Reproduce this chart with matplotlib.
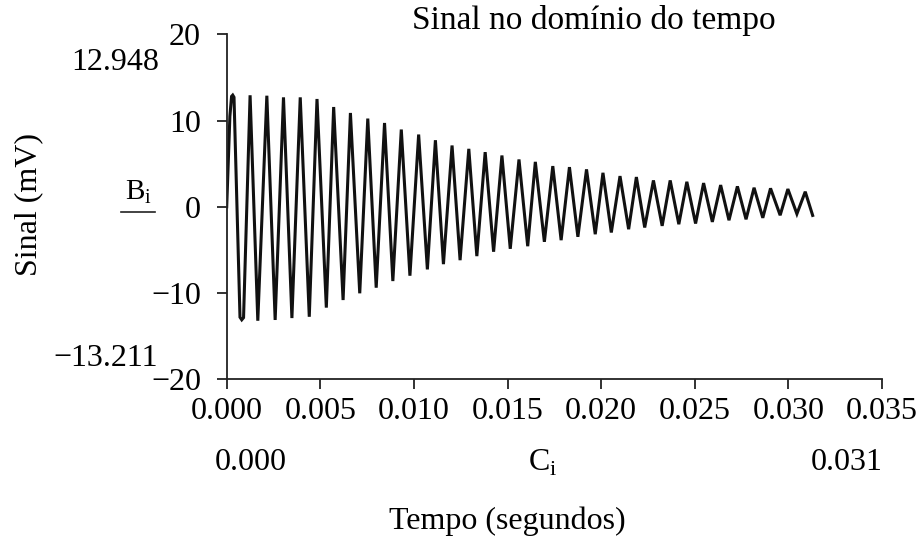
import numpy as np
import matplotlib.pyplot as plt

# picos e vales (tempo em s, sinal em mV)
t_picos = [0.000322, 0.001249, 0.002144, 0.003033, 0.003928, 0.004823, 0.005713,
           0.006608, 0.007535, 0.008430, 0.009325, 0.010252, 0.011147, 0.012036,
           0.012931, 0.013805, 0.014700, 0.015611, 0.016484, 0.017417, 0.018306,
           0.019218, 0.020096, 0.021007, 0.021881, 0.022792, 0.023687, 0.024576,
           0.025471, 0.026382, 0.027277, 0.028167, 0.029046, 0.029973, 0.030900]
v_picos = [12.948, 12.93, 12.88, 12.69, 12.69, 12.50, 11.57, 10.88, 10.23, 9.72,
           8.96, 8.38, 7.72, 7.11, 6.72, 6.34, 5.95, 5.49, 5.21, 4.72, 4.60, 4.34,
           3.94, 3.56, 3.45, 3.06, 3.06, 2.90, 2.75, 2.52, 2.37, 2.21, 2.14, 2.06, 1.75]

t_vales = [0.000804, 0.001661, 0.002588, 0.003483, 0.004410, 0.005321, 0.006216,
           0.007106, 0.007985, 0.008874, 0.009786, 0.010718, 0.011576, 0.012465,
           0.013360, 0.014255, 0.015145, 0.016077, 0.016967, 0.017862, 0.018757,
           0.019684, 0.020542, 0.021468, 0.022326, 0.023258, 0.024148, 0.025043,
           0.025938, 0.026827, 0.027738, 0.028633, 0.029560, 0.030455]
v_vales = [-13.10, -13.211, -13.12, -12.90, -12.75, -11.69, -10.81, -10.03, -9.38,
           -8.61, -7.99, -7.26, -6.65, -6.19, -5.72, -5.21, -4.87, -4.57, -4.06,
           -3.87, -3.48, -3.18, -2.98, -2.60, -2.40, -2.21, -2.02, -1.94, -1.75,
           -1.56, -1.45, -1.28, -0.98, -0.82]

# inicio, arredondamento do primeiro ciclo e ponto final
t_extra = [0.0, 0.00017, 0.00026, 0.00039, 0.00071, 0.00090, 0.031297]
v_extra = [0.0, 10.5, 12.8, 12.7, -12.8, -12.85, -1.0]

x_ticks = [0.000, 0.005, 0.010, 0.015, 0.020, 0.025, 0.030, 0.035]
y_ticks = [-20, -10, 0, 10, 20]

t = np.concatenate([t_picos, t_vales, t_extra])
v = np.concatenate([v_picos, v_vales, v_extra])
ordem = np.argsort(t)
t = t[ordem]
v = v[ordem]

plt.rcParams['font.family'] = ['Liberation Serif', 'DejaVu Serif']
W, H = 921, 541
fig = plt.figure(figsize=(W / 100, H / 100), dpi=100)

def px(x, y):
    return x / W, 1 - y / H

x0, y0 = px(226.7, 379.3)
x1, y1 = px(882, 34.3)
ax = fig.add_axes([x0, y0, x1 - x0, y1 - y0])
ax.plot(t, v, color='#111111', lw=2.2, solid_joinstyle='miter')
ax.set_xlim(0, 0.035)
ax.set_ylim(-20, 20)
ax.set_xticks(x_ticks)
ax.set_xticklabels(['%.3f' % x for x in x_ticks])
ax.set_yticks(y_ticks)
for s in ['top', 'right']:
    ax.spines[s].set_visible(False)
for s in ['left', 'bottom']:
    ax.spines[s].set_linewidth(1.3)
    ax.spines[s].set_color('#222222')
fs = 23
ax.tick_params(axis='both', direction='out', length=7.5, width=1.3,
               labelsize=fs, color='#222222')
ax.tick_params(axis='x', pad=5)
ax.tick_params(axis='y', pad=11)

fig.text(*px(594, 21), 'Sinal no domínio do tempo', fontsize=24, ha='center', va='center')
fig.text(*px(29, 205), 'Sinal (mV)', fontsize=fs, rotation=90, ha='center', va='center')
fig.text(*px(159, 62), '12.948', fontsize=fs, ha='right', va='center')
fig.text(*px(158, 358), '\u221213.211', fontsize=fs, ha='right', va='center')
fig.text(*px(138, 192), r'B$_{\mathregular{i}}$', fontsize=21, ha='center', va='center')
fig.add_artist(plt.Line2D([121 / W, 155 / W], [1 - 211.7 / H] * 2, color='#222222', lw=1.2))
fig.text(*px(215, 463), '0.000', fontsize=fs, ha='left', va='center')
fig.text(*px(883, 463), '0.031', fontsize=fs, ha='right', va='center')
fig.text(*px(543, 463), r'C$_{\mathregular{i}}$', fontsize=fs, ha='center', va='center')
fig.text(*px(507, 521), 'Tempo (segundos)', fontsize=fs, ha='center', va='center')

fig.savefig('out.png', dpi=100)
